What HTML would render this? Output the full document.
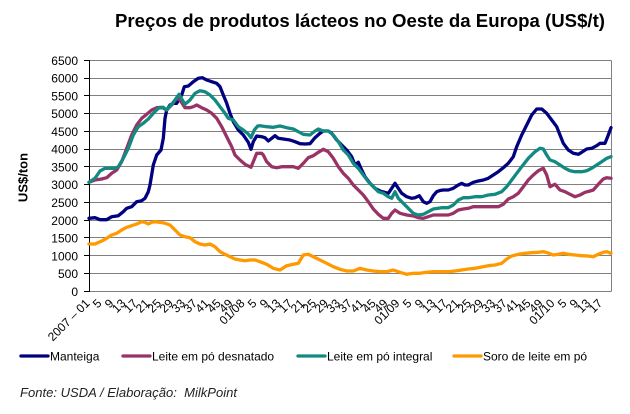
<!DOCTYPE html>
<html>
<head>
<meta charset="utf-8">
<style>
  html, body { margin:0; padding:0; background:#fff; }
  svg { display:block; }
  text { font-family: "Liberation Sans", Arial, sans-serif; }
</style>
</head>
<body>
<svg width="630" height="414" viewBox="0 0 630 414" xmlns="http://www.w3.org/2000/svg">
  <rect x="0" y="0" width="630" height="414" fill="#ffffff"/>

  <!-- Title -->
  <text x="115" y="27" font-size="18.6" font-weight="bold" fill="#000" textLength="490" lengthAdjust="spacingAndGlyphs">Preços de produtos lácteos no Oeste da Europa (US$/t)</text>

  <!-- Gridlines -->
  <g stroke="#808080" stroke-width="1" shape-rendering="crispEdges">
    <line x1="89.5" y1="60.5" x2="611.5" y2="60.5"/>
    <line x1="89.5" y1="78.5" x2="611.5" y2="78.5"/>
    <line x1="89.5" y1="95.5" x2="611.5" y2="95.5"/>
    <line x1="89.5" y1="113.5" x2="611.5" y2="113.5"/>
    <line x1="89.5" y1="131.5" x2="611.5" y2="131.5"/>
    <line x1="89.5" y1="149.5" x2="611.5" y2="149.5"/>
    <line x1="89.5" y1="166.5" x2="611.5" y2="166.5"/>
    <line x1="89.5" y1="184.5" x2="611.5" y2="184.5"/>
    <line x1="89.5" y1="202.5" x2="611.5" y2="202.5"/>
    <line x1="89.5" y1="220.5" x2="611.5" y2="220.5"/>
    <line x1="89.5" y1="237.5" x2="611.5" y2="237.5"/>
    <line x1="89.5" y1="255.5" x2="611.5" y2="255.5"/>
    <line x1="89.5" y1="273.5" x2="611.5" y2="273.5"/>
    <line x1="89.5" y1="291.5" x2="611.5" y2="291.5"/>
    <line x1="611.5" y1="60.5" x2="611.5" y2="291.5"/>
  </g>

  <!-- Y axis -->
  <g stroke="#000" stroke-width="1" shape-rendering="crispEdges">
    <line x1="89.5" y1="60" x2="89.5" y2="292"/>
    <line x1="84" y1="60.5" x2="89.5" y2="60.5"/>
    <line x1="84" y1="78.5" x2="89.5" y2="78.5"/>
    <line x1="84" y1="95.5" x2="89.5" y2="95.5"/>
    <line x1="84" y1="113.5" x2="89.5" y2="113.5"/>
    <line x1="84" y1="131.5" x2="89.5" y2="131.5"/>
    <line x1="84" y1="149.5" x2="89.5" y2="149.5"/>
    <line x1="84" y1="166.5" x2="89.5" y2="166.5"/>
    <line x1="84" y1="184.5" x2="89.5" y2="184.5"/>
    <line x1="84" y1="202.5" x2="89.5" y2="202.5"/>
    <line x1="84" y1="220.5" x2="89.5" y2="220.5"/>
    <line x1="84" y1="237.5" x2="89.5" y2="237.5"/>
    <line x1="84" y1="255.5" x2="89.5" y2="255.5"/>
    <line x1="84" y1="273.5" x2="89.5" y2="273.5"/>
    <line x1="84" y1="291.5" x2="89.5" y2="291.5"/>
  </g>

  <!-- Y tick labels -->
  <g font-size="12" fill="#000" text-anchor="end">
    <text x="78" y="64.8">6500</text>
    <text x="78" y="82.6">6000</text>
    <text x="78" y="100.3">5500</text>
    <text x="78" y="118.1">5000</text>
    <text x="78" y="135.9">4500</text>
    <text x="78" y="153.7">4000</text>
    <text x="78" y="171.4">3500</text>
    <text x="78" y="189.2">3000</text>
    <text x="78" y="207">2500</text>
    <text x="78" y="224.8">2000</text>
    <text x="78" y="242.5">1500</text>
    <text x="78" y="260.3">1000</text>
    <text x="78" y="278.1">500</text>
    <text x="78" y="295.8">0</text>
  </g>

  <!-- Y axis title -->
  <text transform="translate(27.5,177.5) rotate(-90)" text-anchor="middle" font-size="13" font-weight="bold" fill="#000">US$/ton</text>

  <!-- X tick labels -->
  <g font-size="12" fill="#000" text-anchor="end">
    <text transform="translate(90.5,304) rotate(-45)">2007 – 01</text>
    <text transform="translate(102.4,304) rotate(-45)">5</text>
    <text transform="translate(114.3,304) rotate(-45)">9</text>
    <text transform="translate(126.3,304) rotate(-45)">13</text>
    <text transform="translate(138.2,304) rotate(-45)">17</text>
    <text transform="translate(150.1,304) rotate(-45)">21</text>
    <text transform="translate(162,304) rotate(-45)">25</text>
    <text transform="translate(173.9,304) rotate(-45)">29</text>
    <text transform="translate(185.9,304) rotate(-45)">33</text>
    <text transform="translate(197.8,304) rotate(-45)">37</text>
    <text transform="translate(209.7,304) rotate(-45)">41</text>
    <text transform="translate(221.6,304) rotate(-45)">45</text>
    <text transform="translate(233.5,304) rotate(-45)">49</text>
    <text transform="translate(245.5,304) rotate(-45)">01/08</text>
    <text transform="translate(257.4,304) rotate(-45)">5</text>
    <text transform="translate(269.3,304) rotate(-45)">9</text>
    <text transform="translate(281.2,304) rotate(-45)">13</text>
    <text transform="translate(293.1,304) rotate(-45)">17</text>
    <text transform="translate(305.1,304) rotate(-45)">21</text>
    <text transform="translate(317,304) rotate(-45)">25</text>
    <text transform="translate(328.9,304) rotate(-45)">29</text>
    <text transform="translate(340.8,304) rotate(-45)">33</text>
    <text transform="translate(352.7,304) rotate(-45)">37</text>
    <text transform="translate(364.7,304) rotate(-45)">41</text>
    <text transform="translate(376.6,304) rotate(-45)">45</text>
    <text transform="translate(388.5,304) rotate(-45)">49</text>
    <text transform="translate(400.4,304) rotate(-45)">01/09</text>
    <text transform="translate(412.3,304) rotate(-45)">5</text>
    <text transform="translate(424.3,304) rotate(-45)">9</text>
    <text transform="translate(436.2,304) rotate(-45)">13</text>
    <text transform="translate(448.1,304) rotate(-45)">17</text>
    <text transform="translate(460,304) rotate(-45)">21</text>
    <text transform="translate(471.9,304) rotate(-45)">25</text>
    <text transform="translate(483.9,304) rotate(-45)">29</text>
    <text transform="translate(495.8,304) rotate(-45)">33</text>
    <text transform="translate(507.7,304) rotate(-45)">37</text>
    <text transform="translate(519.6,304) rotate(-45)">41</text>
    <text transform="translate(531.5,304) rotate(-45)">45</text>
    <text transform="translate(543.5,304) rotate(-45)">49</text>
    <text transform="translate(555.4,304) rotate(-45)">01/10</text>
    <text transform="translate(567.3,304) rotate(-45)">5</text>
    <text transform="translate(579.2,304) rotate(-45)">9</text>
    <text transform="translate(591.1,304) rotate(-45)">13</text>
    <text transform="translate(603.1,304) rotate(-45)">17</text>
  </g>

  <!-- Series -->
  <g fill="none" stroke-width="3.3" stroke-linejoin="round" stroke-linecap="round">
    <!-- Manteiga -->
    <polyline stroke="#000080" points="89,218.3 95,217.7 100,219.7 106.7,219.7 111.7,216.7 118.3,215.7 123.3,211.7 126.7,208.3 131.7,206.7 136.7,201.7 141.7,200.7 145,198.3 148.3,191.7 150,185 153.3,165 156.7,155 161,150 163.3,138.3 165,118.3 166.7,110 170,105 173.3,103.3 176.7,103.3 181.7,95 184.3,86.7 188.3,86 193.3,81.7 198.3,78.3 202.3,77.7 206.7,80 211.7,81.7 216.7,83.3 220,86.7 223.3,95 226.7,103.3 230,113.3 233.3,121.7 238.3,130 243.3,135 248.3,142.3 251,149.3 253.3,141.7 256.7,136 261.7,136.7 265,137.7 268.3,141 271.7,138.3 275,135.7 278.3,138.3 283.3,139 290,140 295,141.7 300,143.7 305,144 310,143.7 315,137.7 320,133.3 323.3,131 328.3,131 331.7,133.3 336.7,140 341.7,145 346.7,150 351.7,156.7 355,165 358.3,162.3 361.7,170 365,176.7 370,183.3 375,188.3 380,191 388.3,193.3 391.7,188.3 395,183.3 398.3,188.3 401.7,193.3 406.7,196.7 411.7,198.3 415,197.7 419.3,195.7 423.3,201.7 426.7,203.3 430,201.7 433.3,195.7 436.7,191.7 440,190.5 443.3,190 448.3,190 453.3,188.3 458.3,185 461.7,183.3 465,185 468.3,185 473.3,182.3 478.3,181 483.3,180 488.3,178.3 493.3,175 498.3,171.7 503.3,167.7 508.3,163.3 513.3,156.7 516.7,146.7 521.7,135 526.7,125 531.7,115 536.7,109 541.7,109 546.7,113.3 551.7,120 556.7,126.7 560,135 563.3,143.3 568.3,150 573.3,153.3 578.3,154.3 581.7,152.3 586.7,149 591.7,148.3 596.7,145.7 600,143.3 605,143.3 608.3,135 611,127.7"/>
    <!-- Leite em pó desnatado -->
    <polyline stroke="#993366" points="89,182.3 95,180 101.7,179 106.7,177.7 111.7,173.3 116.7,170 121.7,161.7 126.7,148.3 131.7,135 136.7,125 141.7,118.3 146.7,114.3 151.7,110 156.7,107.7 161.7,107.3 166.7,110 171.7,105 176.7,98.3 180,100 185,107.7 190,107.7 193.3,106.7 196.7,105 201.7,107.7 206.7,110 211.7,113.3 216.7,118.3 221.7,126.7 226.7,136.7 231.7,146.7 235,155 240,160 245,164.3 251,167.3 253.3,161.7 256.7,153.3 261.7,153.3 263.3,155 266.7,161.7 271.7,166.7 276.7,167.7 281.7,166.7 286.7,166.7 293.3,166.7 298.3,168.3 303.3,163.3 308.3,157.7 313.3,155.7 318.3,152.3 323.3,149.3 328.3,151.7 333.3,158.3 338.3,166.7 343.3,173.3 348.3,178.3 353.3,185 358.3,190 363.3,195 368.3,201.7 373.3,209 378.3,214.3 383.3,218.3 388.3,218.3 391.7,213.3 395,210 400,213.3 406.7,215 413.3,216 418.3,217.7 423.3,218.3 428.3,216.7 433.3,215 441.7,215 448.3,215 453.3,213.3 458.3,210 463.3,209 468.3,208.3 473.3,206.7 478.3,206.7 485,206.7 491.7,206.7 498.3,206.7 503.3,204.3 508.3,199 513.3,196.7 518.3,193.3 523.3,186.7 528.3,180 533.3,175 538.3,170.7 543.3,168.3 546.7,175 550,186.7 555,184.3 560,190 565,191.7 570,194.3 575,196.7 580,195 585,192.3 590,191 593.3,190 598.3,184.3 603.3,179 606.7,177.7 611,178.3"/>
    <!-- Leite em pó integral -->
    <polyline stroke="#128a82" points="89,182.3 95,178.3 100,171 105,168.3 110,168.3 115,168.3 118.3,166.7 123.3,158.3 128.3,148.3 133.3,135 138.3,126.7 143.3,123.3 148.3,119 153.3,113.3 158.3,108.3 163.3,107.3 166.7,110 171,105 175,100 179,94.3 182.3,100 185,104.3 190,100 195,93.3 200,90.7 205,91.7 210,95 215,100 220,106.7 225,113.3 228.3,118.3 233.3,120 238.3,126.7 243.3,130 248.3,134 251,137.7 254.3,130 257.7,126 260,125.7 266.7,126.7 273.3,127.3 280,126 286.7,127.7 293.3,129 298.3,131.7 303.3,134.3 310,135 315,131 318.3,129 323.3,131 328.3,131 333.3,135 338.3,141.7 343.3,150 348.3,155 353.3,163.3 358.3,168.3 363.3,175 368.3,181.7 373.3,186.7 378.3,191.7 383.3,193.3 388.3,196.7 391.7,198.3 395,191.7 398.3,198.3 403.3,203.3 408.3,208.3 413.3,213.3 418.3,215 423.3,214.3 428.3,211.7 433.3,209 441.7,207.7 448.3,207.7 453.3,205 458.3,200 463.3,197.7 468.3,197.7 475,196.7 481.7,196.7 488.3,195 495,194.3 501.7,191.7 506.7,186.7 511.7,180 516.7,173.3 521.7,166.7 528.3,158.3 535,151.7 540,148.3 543.3,149 546.7,155 550,160 555,161.7 560,165 565,168.3 570,170.7 575,171.7 581.7,171.7 586.7,170.7 591.7,168.3 596.7,165 601.7,161.7 606.7,158.3 611,156.7"/>
    <!-- Soro de leite em pó -->
    <polyline stroke="#ff9900" points="89,244 95,244 101.7,241 106.7,238.3 111.7,235 116.7,233.3 121.7,230 126.7,227.3 131.7,225.7 136.7,224 141.7,221.7 145,222.3 148.3,224 151.7,222.3 155,221.7 160,222.3 165,223.3 170,225 175,230 180,235 185,236.7 190,237.7 195,241.7 200,244 205,245 210,244 215,246.7 220,251.7 225,254.3 230,256.7 235,259 240,260 245,260.7 250,260 255,260 260,261.7 266.7,264.3 273.3,268.3 280,270 286.7,265.7 293.3,264.3 298.3,263.3 303.3,255 308.3,254.3 313.3,256.7 320,260 326.7,263.3 333.3,266.7 340,269.3 346.7,271 353.3,271 360,268.3 366.7,270 373.3,271 380,271.7 386.7,271.7 393.3,270 400,272.3 406.7,274.3 413.3,273.3 420,273.3 426.7,272.3 433.3,271.7 441.7,271.7 448.3,271.7 455,271 461.7,270 468.3,269 475,268.3 481.7,267 488.3,265.7 495,265 501.7,263.3 506.7,259 511.7,256 518.3,254.3 525,253.3 531.7,252.7 538.3,252.3 543.3,251.7 548.3,253 553.3,255 558.3,254.3 563.3,253.3 568.3,254.3 575,255 581.7,255.7 588.3,256 593.3,256.7 598.3,254.3 603.3,252.3 606.7,251.7 611,253.3"/>
  </g>

  <!-- Legend -->
  <g stroke-width="3.3" stroke-linecap="round">
    <line x1="21" y1="356" x2="48" y2="356" stroke="#000080"/>
    <line x1="123" y1="356" x2="150" y2="356" stroke="#993366"/>
    <line x1="298" y1="356" x2="325" y2="356" stroke="#128a82"/>
    <line x1="454" y1="356" x2="481" y2="356" stroke="#ff9900"/>
  </g>
  <g font-size="12" fill="#000">
    <text x="50" y="360.5">Manteiga</text>
    <text x="152" y="360.5">Leite em pó desnatado</text>
    <text x="327" y="360.5">Leite em pó integral</text>
    <text x="483" y="360.5">Soro de leite em pó</text>
  </g>

  <!-- Footnote -->
  <text x="20" y="397" font-size="13" font-style="italic" fill="#222" textLength="217" lengthAdjust="spacingAndGlyphs" xml:space="preserve">Fonte: USDA / Elaboração:  MilkPoint</text>
</svg>
</body>
</html>
